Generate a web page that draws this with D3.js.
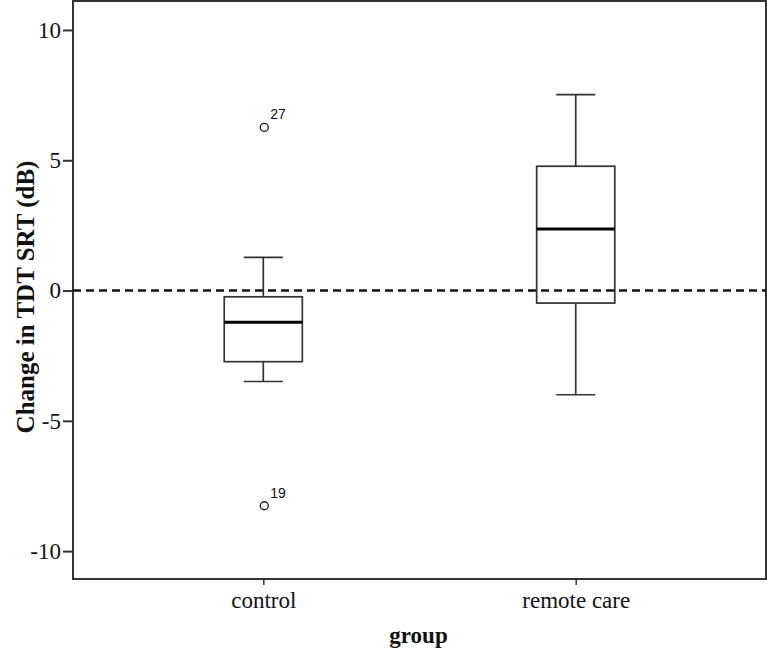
<!DOCTYPE html>
<html><head><meta charset="utf-8">
<script src="https://cdn.jsdelivr.net/npm/d3@7"></script>
<style>body{margin:0;background:#fff}svg{display:block}</style>
</head><body>
<svg id="chart" width="767" height="654"></svg>
<script>
const categories = ["control", "remote care"];
const lowerWhisker = [-3.49, -4.0];
const q1 = [-2.73, -0.48];
const median = [-1.22, 2.36];
const q3 = [-0.24, 4.77];
const upperWhisker = [1.27, 7.52];
const outlierGroup = ["control", "control"];
const outlierValue = [6.26, -8.26];
const outlierLabel = ["27", "19"];
const yTicks = [-10, -5, 0, 5, 10];
const yTickLabels = ["-10", "-5", "0", "5", "10"];
const refLine = [0];

const svg = d3.select("#chart");
const L = 73, R = 766, T = 0, B = 579;
const x = d3.scalePoint().domain(categories).range([L, R]).padding(0.609);
const y = d3.scaleLinear().domain([-11.07, 11.15]).range([B, T]);
const step = x.step();
const boxW = step * 0.25, capW = step * 0.125;
const stroke = "#333";

// frame
svg.append("rect").attr("x", L).attr("y", T + 1).attr("width", R - L).attr("height", B - T - 1)
  .attr("fill", "none").attr("stroke", stroke).attr("stroke-width", 2);

// y axis
const yAxis = svg.append("g").attr("transform", `translate(${L},0)`)
  .call(d3.axisLeft(y).tickValues(yTicks).tickSize(10).tickPadding(2)
    .tickFormat((d, i) => yTickLabels[i]));
yAxis.select(".domain").remove();
yAxis.selectAll("line").attr("stroke", stroke).attr("stroke-width", 2);
yAxis.selectAll("text").attr("font-family", "'Liberation Serif', 'Times New Roman', serif")
  .attr("font-size", 23).attr("fill", "#111");

// x axis
const xAxis = svg.append("g").attr("transform", `translate(0,${B})`)
  .call(d3.axisBottom(x).tickSize(6).tickPadding(7));
xAxis.select(".domain").remove();
xAxis.selectAll("line").attr("stroke", stroke).attr("stroke-width", 1.5);
xAxis.selectAll("text").attr("font-family", "'Liberation Serif', 'Times New Roman', serif")
  .attr("font-size", 23).attr("fill", "#111");

// reference line
svg.selectAll(".ref").data(refLine).enter().append("line")
  .attr("x1", L).attr("x2", R).attr("y1", d => y(d)).attr("y2", d => y(d))
  .attr("stroke", "#111").attr("stroke-width", 2.5).attr("stroke-dasharray", "8,5");

// boxes
const data = categories.map((c, i) => ({c, lw: lowerWhisker[i], q1: q1[i], md: median[i], q3: q3[i], uw: upperWhisker[i]}));
const g = svg.selectAll(".box").data(data).enter().append("g");
g.append("line").attr("x1", d => x(d.c)).attr("x2", d => x(d.c))
  .attr("y1", d => y(d.uw)).attr("y2", d => y(d.q3)).attr("stroke", stroke).attr("stroke-width", 1.7);
g.append("line").attr("x1", d => x(d.c)).attr("x2", d => x(d.c))
  .attr("y1", d => y(d.q1)).attr("y2", d => y(d.lw)).attr("stroke", stroke).attr("stroke-width", 1.7);
g.append("line").attr("x1", d => x(d.c) - capW / 2).attr("x2", d => x(d.c) + capW / 2)
  .attr("y1", d => y(d.uw)).attr("y2", d => y(d.uw)).attr("stroke", stroke).attr("stroke-width", 1.7);
g.append("line").attr("x1", d => x(d.c) - capW / 2).attr("x2", d => x(d.c) + capW / 2)
  .attr("y1", d => y(d.lw)).attr("y2", d => y(d.lw)).attr("stroke", stroke).attr("stroke-width", 1.7);
g.append("rect").attr("x", d => x(d.c) - boxW / 2).attr("width", boxW)
  .attr("y", d => y(d.q3)).attr("height", d => y(d.q1) - y(d.q3))
  .attr("fill", "none").attr("stroke", stroke).attr("stroke-width", 1.7);
g.append("line").attr("x1", d => x(d.c) - boxW / 2).attr("x2", d => x(d.c) + boxW / 2)
  .attr("y1", d => y(d.md)).attr("y2", d => y(d.md)).attr("stroke", "#000").attr("stroke-width", 3);

// outliers
const outs = outlierValue.map((v, i) => ({c: outlierGroup[i], v, lab: outlierLabel[i]}));
svg.selectAll(".out").data(outs).enter().append("circle")
  .attr("cx", d => x(d.c) + 1).attr("cy", d => y(d.v)).attr("r", 4)
  .attr("fill", "none").attr("stroke", "#222").attr("stroke-width", 1.4);
svg.selectAll(".outlab").data(outs).enter().append("text")
  .attr("x", d => x(d.c) + 7).attr("y", d => y(d.v) - 8)
  .attr("font-family", "'Liberation Sans', Arial, sans-serif").attr("font-size", 14).attr("fill", "#111")
  .text(d => d.lab);

// axis titles
svg.append("text").attr("x", (L + R) / 2 - 1).attr("y", 643).attr("text-anchor", "middle")
  .attr("font-family", "'Liberation Serif', 'Times New Roman', serif").attr("font-weight", "bold")
  .attr("font-size", 23).attr("fill", "#111").text("group");
svg.append("text").attr("transform", `translate(34,297) rotate(-90)`).attr("text-anchor", "middle")
  .attr("font-family", "'Liberation Serif', 'Times New Roman', serif").attr("font-weight", "bold")
  .attr("font-size", 25).attr("fill", "#111").text("Change in TDT SRT (dB)");
</script>
</body></html>
